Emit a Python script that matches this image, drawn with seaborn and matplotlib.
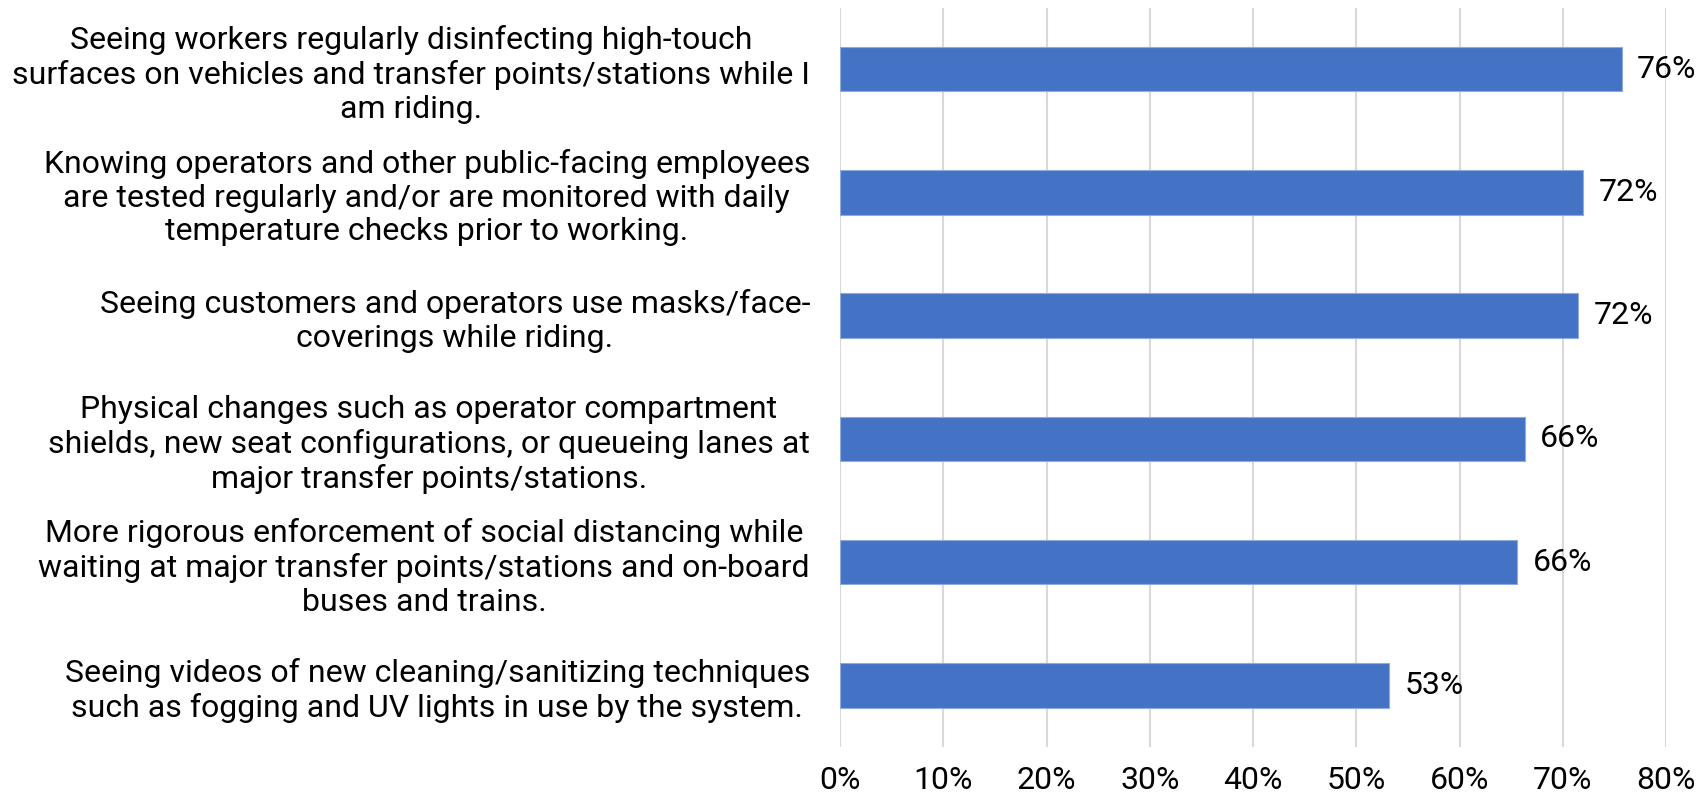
import matplotlib
matplotlib.use("Agg")
import matplotlib.pyplot as plt
import seaborn as sns
import pandas as pd
from matplotlib.ticker import PercentFormatter

categories = [
    "Seeing workers regularly disinfecting high-touch\nsurfaces on vehicles and transfer points/stations while I\nam riding.",
    "Knowing operators and other public-facing employees\nare tested regularly and/or are monitored with daily\ntemperature checks prior to working.",
    "Seeing customers and operators use masks/face-\ncoverings while riding.",
    "Physical changes such as operator compartment\nshields, new seat configurations, or queueing lanes at\nmajor transfer points/stations.",
    "More rigorous enforcement of social distancing while\nwaiting at major transfer points/stations and on-board\nbuses and trains.",
    "Seeing videos of new cleaning/sanitizing techniques\nsuch as fogging and UV lights in use by the system.",
]
values = [75.7, 72.0, 71.5, 66.3, 65.6, 53.2]
value_labels = ["76%", "72%", "72%", "66%", "66%", "53%"]
x_ticks = [0, 10, 20, 30, 40, 50, 60, 70, 80]

sns.set_theme(style="whitegrid")
plt.rcParams["font.family"] = ["Roboto", "DejaVu Sans"]

df = pd.DataFrame({"category": categories, "value": values})

fig = plt.figure(figsize=(17.04, 7.98), dpi=100)
ax = fig.add_axes([840 / 1704, 1 - 747 / 798, (1666 - 840) / 1704, (747 - 7.5) / 798])

sns.barplot(data=df, y="category", x="value", orient="h", color="#4472C4",
            width=0.36, saturation=1, ax=ax, edgecolor="#8FAADC", linewidth=0.8)

ax.set_xlim(0, 80)
ax.set_xticks(x_ticks)
ax.xaxis.set_major_formatter(PercentFormatter(decimals=0))
ax.set_xlabel("")
ax.set_ylabel("")
ax.grid(axis="x", color="#d9d9d9", linewidth=1.5)
ax.grid(axis="y", visible=False)
ax.set_axisbelow(True)
for s in ax.spines.values():
    s.set_visible(False)

ax.tick_params(axis="x", length=0, pad=14, labelsize=23, labelcolor="black")
ax.tick_params(axis="y", length=0, pad=21.6, labelsize=23, labelcolor="black")
for lbl in ax.get_yticklabels():
    lbl.set_multialignment("center")
    lbl.set_linespacing(1.2)

for i, (v, t) in enumerate(zip(values, value_labels)):
    ax.annotate(t, xy=(v, i), xytext=(11, 0), textcoords="offset points",
                va="center", ha="left", fontsize=23, color="black")

fig.savefig("out.png", dpi=100)
